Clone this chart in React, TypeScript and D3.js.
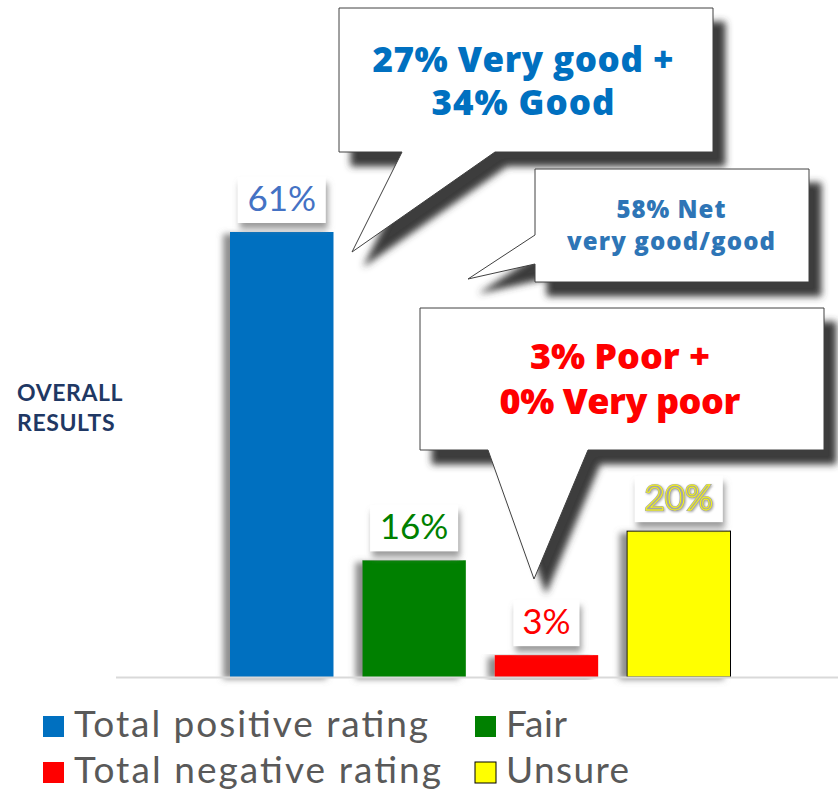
import React from "react";
import * as d3 from "d3";

const categories = ["Total positive rating", "Fair", "Total negative rating", "Unsure"];
const values = [61, 16, 3, 20];
const valueLabels = ["61%", "16%", "3%", "20%"];
const barColors = ["#0070C0", "#008000", "#FF0000", "#FFFF00"];
const labelColors = ["#4472C4", "#008000", "#FF0000", "#A6A6A6"];
const legendOrder = [0, 1, 2, 3];
const legendWidths = [354, 61, 367, 123];
const calloutBig = ["27% Very good +", "34% Good"];
const calloutBigW = [301, 183];
const calloutNet = ["58% Net", "very good/good"];
const calloutNetW = [109, 208];
const calloutRed = ["3% Poor +", "0% Very poor"];
const calloutRedW = [180, 241];
const sideTitle = ["OVERALL", "RESULTS"];

const W = 838;
const H = 790;

export default function App() {
  const x = d3.scaleBand<string>().domain(categories).range([230, 730.5]).paddingInner(0.218).paddingOuter(0);
  const y = d3.scaleLinear().domain([0, 61]).range([677, 232]);
  const bw = x.bandwidth();

  const bigPath = d3.line()([
    [339, 8], [713, 8], [713, 152], [495, 152], [352, 252], [402, 152], [339, 152],
  ]) + "Z";
  const netPath = d3.line()([
    [535, 169], [809, 169], [809, 282], [535, 282], [535, 264], [468, 279], [535, 235],
  ]) + "Z";
  const redPath = d3.line()([
    [420, 308], [824, 308], [824, 450], [588, 450], [534, 579], [488, 450], [420, 450],
  ]) + "Z";

  const font = "Lato, 'Open Sans', sans-serif";
  const cfont = "'Open Sans', Lato, sans-serif";

  return (
    <svg width={W} height={H} style={{ position: "absolute", left: 0, top: 0, background: "#fff" }} fontFamily={font}>
      <defs>
        <filter id="cs" x="-10%" y="-10%" width="130%" height="140%">
          <feGaussianBlur in="SourceAlpha" stdDeviation="3.5" />
          <feOffset dx="12" dy="14" result="b" />
          <feFlood floodColor="#3c3c3c" />
          <feComposite in2="b" operator="in" result="s" />
          <feMerge>
            <feMergeNode in="s" />
            <feMergeNode in="SourceGraphic" />
          </feMerge>
        </filter>
        <filter id="ls" x="-20%" y="-20%" width="140%" height="160%">
          <feGaussianBlur in="SourceAlpha" stdDeviation="3" />
          <feOffset dx="2" dy="6" result="b" />
          <feFlood floodColor="#8a8a8a" floodOpacity="0.85" />
          <feComposite in2="b" operator="in" result="s" />
          <feMerge>
            <feMergeNode in="s" />
            <feMergeNode in="SourceGraphic" />
          </feMerge>
        </filter>
        <filter id="bs" x="-30%" y="-10%" width="150%" height="120%">
          <feGaussianBlur in="SourceAlpha" stdDeviation="3" />
          <feOffset dx="-7" dy="2" result="b" />
          <feFlood floodColor="#7a7a7a" floodOpacity="0.85" />
          <feComposite in2="b" operator="in" result="s" />
          <feMerge>
            <feMergeNode in="s" />
            <feMergeNode in="SourceGraphic" />
          </feMerge>
        </filter>
        <filter id="ts" x="-20%" y="-20%" width="140%" height="140%">
          <feGaussianBlur in="SourceAlpha" stdDeviation="1.2" />
          <feOffset dx="1" dy="1" result="b" />
          <feFlood floodColor="#999" floodOpacity="0.8" />
          <feComposite in2="b" operator="in" result="s" />
          <feMerge>
            <feMergeNode in="s" />
            <feMergeNode in="SourceGraphic" />
          </feMerge>
        </filter>
      </defs>

      {/* side title */}
      {sideTitle.map((t, i) => (
        <text key={t} x={17} y={401 + i * 30} fontSize={23} fontWeight={700} fill="#1F3864" letterSpacing={0.6}>
          {t}
        </text>
      ))}

      {/* bars */}
      {categories.map((c, i) => (
        <rect
          key={c}
          x={x(c)}
          y={y(values[i])}
          width={bw}
          height={y(0) - y(values[i])}
          fill={barColors[i]}
          stroke={i === 3 ? "#000" : "none"}
          strokeWidth={1}
          filter="url(#bs)"
        />
      ))}

      {/* axis line */}
      <line x1={116} x2={838} y1={y(0) + 0.5} y2={y(0) + 0.5} stroke="#D9D9D9" strokeWidth={2} />

      {/* data labels */}
      {categories.map((c, i) => {
        const cx = (x(c) as number) + bw / 2;
        const boxW = valueLabels[i].length * 22 + 22;
        const boxH = 46;
        const top = y(values[i]) - 9 - boxH;
        return (
          <g key={c + "-l"}>
            <rect x={cx - boxW / 2} y={top} width={boxW} height={boxH} fill="#fff" filter="url(#ls)" />
            {i === 3 ? (
              <g filter="url(#ts)">
                <text x={cx} y={top + 34} textAnchor="middle" fontSize={35} fill="#A6A6A6" stroke="#A6A6A6" strokeWidth={2.2}>
                  {valueLabels[i]}
                </text>
                <text x={cx} y={top + 34} textAnchor="middle" fontSize={35} fill="#A6A6A6" stroke="#FFFF00" strokeWidth={0.8}>
                  {valueLabels[i]}
                </text>
              </g>
            ) : (
              <text x={cx} y={top + 34} textAnchor="middle" fontSize={35} fill={labelColors[i]}>
                {valueLabels[i]}
              </text>
            )}
          </g>
        );
      })}

      {/* callouts */}
      <path d={bigPath} fill="#fff" stroke="#404040" strokeWidth={1} filter="url(#cs)" />
      {calloutBig.map((t, i) => (
        <text
          key={t}
          x={523 - calloutBigW[i] / 2}
          y={72 + i * 43}
          textLength={calloutBigW[i]}
          lengthAdjust="spacing"
          fontSize={35}
          fontWeight={800}
          fontFamily={cfont}
          fill="#0070C0"
        >
          {t}
        </text>
      ))}
      <path d={netPath} fill="#fff" stroke="#404040" strokeWidth={1} filter="url(#cs)" />
      {calloutNet.map((t, i) => (
        <text
          key={t}
          x={671 - calloutNetW[i] / 2}
          y={218 + i * 32}
          textLength={calloutNetW[i]}
          lengthAdjust="spacing"
          fontSize={24}
          fontWeight={800}
          fontFamily={cfont}
          fill="#2E75B6"
        >
          {t}
        </text>
      ))}
      <path d={redPath} fill="#fff" stroke="#404040" strokeWidth={1} filter="url(#cs)" />
      {calloutRed.map((t, i) => (
        <text
          key={t}
          x={620 - calloutRedW[i] / 2}
          y={369 + i * 45}
          textLength={calloutRedW[i]}
          lengthAdjust="spacing"
          fontSize={36}
          fontWeight={800}
          fontFamily={cfont}
          fill="#FF0000"
        >
          {t}
        </text>
      ))}

      {/* legend */}
      {legendOrder.map((idx, k) => {
        const col = k % 2;
        const row = Math.floor(k / 2);
        const lx = col === 0 ? 43 : 475;
        const ly = 716 + row * 46;
        return (
          <g key={"lg" + idx}>
            <rect
              x={lx}
              y={ly}
              width={21}
              height={21}
              fill={barColors[idx]}
              stroke={idx === 3 ? "#000" : "none"}
              strokeWidth={1}
            />
            <text
              x={lx + 31}
              y={ly + 21}
              fontSize={37}
              fill="#595959"
              textLength={legendWidths[k]}
              lengthAdjust="spacing"
            >
              {categories[idx]}
            </text>
          </g>
        );
      })}
    </svg>
  );
}
